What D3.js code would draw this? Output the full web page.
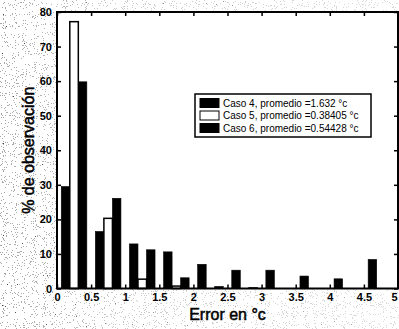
<!DOCTYPE html>
<html>
<head>
<meta charset="utf-8">
<script src="https://cdn.jsdelivr.net/npm/d3@7/dist/d3.min.js"></script>
<style>
  html, body { margin: 0; padding: 0; background: #fff; }
  svg { display: block; }
  text { font-family: "Liberation Sans", Arial, sans-serif; fill: #000; }
</style>
</head>
<body>
<svg id="chart" width="399" height="329"></svg>
<script>
// Histogram of temperature error: share of observations per 0.5 °C bin
const binCenters = [0.25, 0.75, 1.25, 1.75, 2.25, 2.75, 3.25, 3.75, 4.25, 4.75];
const caso4 = [29.5, 16.5, 12.9, 10.6, 7.0, 5.3, 5.3, 3.6, 2.8, 8.4];
const caso5 = [77.2, 20.3, 2.7, 0.7, 0.0, 0.0, 0.0, 0.0, 0.0, 0.0];
const caso6 = [59.8, 26.1, 11.2, 3.1, 0.6, 0.3, 0.0, 0.0, 0.0, 0.0];
const seriesNames = ["Caso 4, promedio =1.632 °c", "Caso 5, promedio =0.38405 °c", "Caso 6, promedio =0.54428 °c"];
const xTicks = [0, 0.5, 1, 1.5, 2, 2.5, 3, 3.5, 4, 4.5, 5];
const xTickLabels = ["0", "0.5", "1", "1.5", "2", "2.5", "3", "3.5", "4", "4.5", "5"];
const yTicks = [0, 10, 20, 30, 40, 50, 60, 70, 80];
const xTitle = "Error en °c";
const yTitle = "% de observación";

const series = [caso4, caso5, caso6];
const fills = ["#000", "#fff", "#000"];

const svg = d3.select("#chart");
const W = 399, H = 329;

// grainy scan texture in the margins
const defs = svg.append("defs");
const f = defs.append("filter").attr("id", "grain").attr("x", 0).attr("y", 0).attr("width", "100%").attr("height", "100%");
f.append("feTurbulence").attr("type", "fractalNoise").attr("baseFrequency", 0.9).attr("numOctaves", 2).attr("seed", 7).attr("result", "n");
f.append("feColorMatrix").attr("in", "n").attr("type", "matrix")
  .attr("values", "0 0 0 0 0  0 0 0 0 0  0 0 0 0 0  2.2 0 0 0 -1.12");
f.append("feComponentTransfer").append("feFuncA").attr("type", "discrete").attr("tableValues", "0 0.35 0.75");
const fade = defs.append("linearGradient").attr("id", "fade").attr("x1", 0).attr("x2", 1);
fade.append("stop").attr("offset", 0).attr("stop-color", "#fff").attr("stop-opacity", 1);
fade.append("stop").attr("offset", 0.3).attr("stop-color", "#fff").attr("stop-opacity", 0.6);
fade.append("stop").attr("offset", 1).attr("stop-color", "#fff").attr("stop-opacity", 0.4);
const mask = defs.append("mask").attr("id", "fadeMask");
mask.append("rect").attr("width", W).attr("height", H).attr("fill", "url(#fade)");
svg.append("rect").attr("width", W).attr("height", H).attr("fill", "#000")
  .attr("filter", "url(#grain)").attr("mask", "url(#fadeMask)");

const x = d3.scaleLinear().domain([0, 5]).range([57, 398]);
const y = d3.scaleLinear().domain([0, 80]).range([288.5, 12]);
// three bars per bin, each 0.125 °C wide, side by side around the bin center
const sub = d3.scaleBand().domain(d3.range(series.length)).range([-0.1875, 0.1875]);

// clean plot area
svg.append("rect").attr("x", x(0)).attr("y", y(80)).attr("width", x(5) - x(0)).attr("height", y(0) - y(80)).attr("fill", "#fff");

const bars = svg.append("g");
series.forEach((vals, si) => {
  bars.selectAll(null).data(vals.map((v, i) => ({ c: binCenters[i], v })))
    .join("rect")
    .attr("x", d => x(d.c + sub(si)))
    .attr("width", d => x(d.c + sub(si) + sub.bandwidth()) - x(d.c + sub(si)))
    .attr("y", d => y(d.v))
    .attr("height", d => y(0) - y(d.v))
    .attr("fill", fills[si])
    .attr("stroke", "#000")
    .attr("stroke-width", si === 1 ? 1.5 : 0.6);
});

// axes with inward ticks on all sides
const styleAxis = g => {
  g.select(".domain").remove();
  g.selectAll(".tick line").attr("stroke", "#000").attr("stroke-width", 1.5);
  g.selectAll(".tick text").attr("font-size", 11).attr("font-weight", "bold")
    .style("font-family", "'Liberation Sans', Arial, sans-serif");
};
const bottomAxis = svg.append("g").attr("transform", `translate(0,${y(0)})`)
  .call(d3.axisBottom(x).tickValues(xTicks).tickFormat((d, i) => xTickLabels[i]).tickSizeInner(-4).tickSizeOuter(0).tickPadding(5))
  .call(styleAxis);
// keep the last label inside the page edge
bottomAxis.selectAll(".tick").filter(d => d === 5).select("text").attr("text-anchor", "end").attr("dx", -1);
svg.append("g").attr("transform", `translate(0,${y(80)})`)
  .call(d3.axisTop(x).tickValues(xTicks).tickFormat("").tickSizeInner(-4).tickSizeOuter(0))
  .call(styleAxis);
svg.append("g").attr("transform", `translate(${x(0)},0)`)
  .call(d3.axisLeft(y).tickValues(yTicks).tickSizeInner(-4).tickSizeOuter(0).tickPadding(5))
  .call(styleAxis);
svg.append("g").attr("transform", `translate(${x(5)},0)`)
  .call(d3.axisRight(y).tickValues(yTicks).tickFormat("").tickSizeInner(-4).tickSizeOuter(0))
  .call(styleAxis);

// axes box
svg.append("rect").attr("x", x(0)).attr("y", y(80)).attr("width", x(5) - x(0)).attr("height", y(0) - y(80))
  .attr("fill", "none").attr("stroke", "#000").attr("stroke-width", 2);

// axis titles
svg.append("text").attr("x", (x(0) + x(5)) / 2).attr("y", 320).attr("text-anchor", "middle")
  .attr("font-size", 16).attr("stroke", "#000").attr("stroke-width", 0.5).text(xTitle);
svg.append("text").attr("transform", `translate(34,${(y(0) + y(80)) / 2}) rotate(-90)`)
  .attr("text-anchor", "middle").attr("font-size", 16).attr("stroke", "#000").attr("stroke-width", 0.5).text(yTitle);

// legend
const lg = svg.append("g").attr("transform", "translate(195,94)");
lg.append("rect").attr("width", 176).attr("height", 43).attr("fill", "#fff").attr("stroke", "#000").attr("stroke-width", 1.5);
seriesNames.forEach((name, i) => {
  const cy = 9 + i * 12.5;
  lg.append("rect").attr("x", 5).attr("y", cy - 4.5).attr("width", 19).attr("height", 9)
    .attr("fill", fills[i]).attr("stroke", "#000").attr("stroke-width", 1);
  lg.append("text").attr("x", 28).attr("y", cy + 3.5).attr("font-size", 10).text(name);
});
</script>
</body>
</html>
